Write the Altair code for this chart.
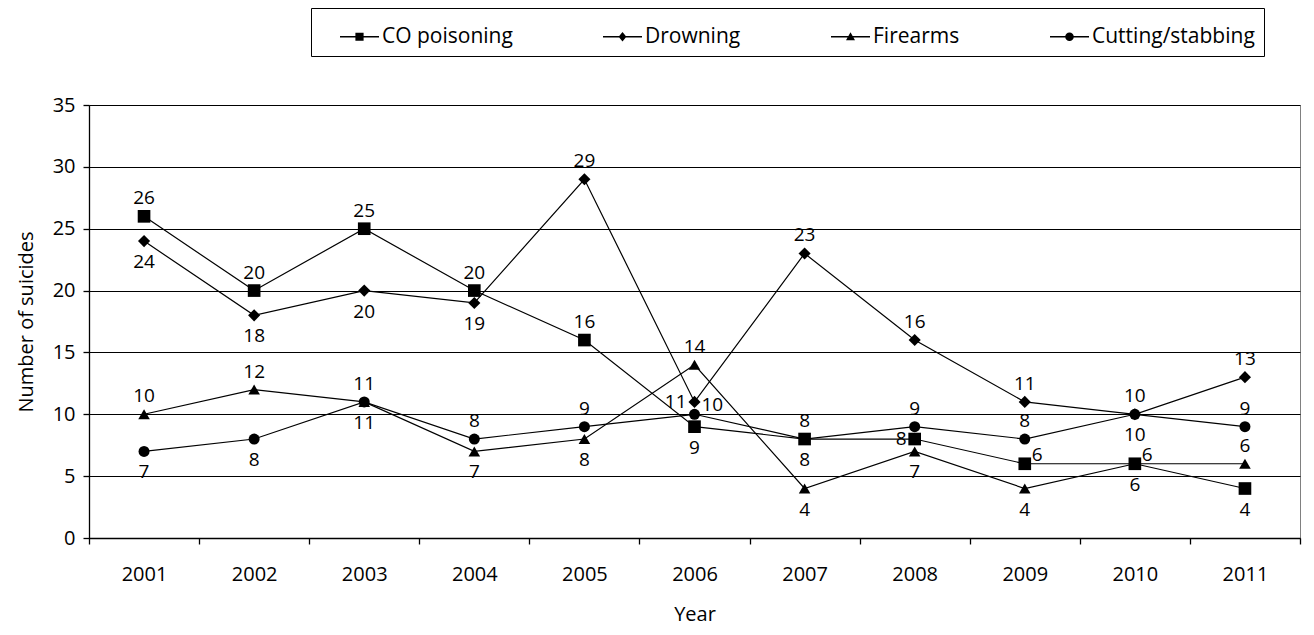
import altair as alt
import pandas as pd

# ---- data ----
years = ["2001", "2002", "2003", "2004", "2005", "2006", "2007", "2008", "2009", "2010", "2011"]
series_names = ["CO poisoning", "Drowning", "Firearms", "Cutting/stabbing"]
co_poisoning = [26, 20, 25, 20, 16, 9, 8, 8, 6, 6, 4]
drowning = [24, 18, 20, 19, 29, 11, 23, 16, 11, 10, 13]
firearms = [10, 12, 11, 7, 8, 14, 4, 7, 4, 6, 6]
cutting_stabbing = [7, 8, 11, 8, 9, 10, 8, 9, 8, 10, 9]

# label placement relative to each point: a=above, b=below, l=left, r=upper right
label_side = {
    "CO poisoning":     ["a", "a", "a", "a", "a", "b", "a", "l", "r", "r", "b"],
    "Drowning":         ["b", "b", "b", "b", "a", "l", "a", "a", "a", "b", "a"],
    "Firearms":         ["a", "a", "b", "b", "b", "a", "b", "b", "b", "b", "a"],
    "Cutting/stabbing": ["b", "b", "a", "a", "a", "r", "b", "a", "a", "a", "a"],
}

values = {
    "CO poisoning": co_poisoning,
    "Drowning": drowning,
    "Firearms": firearms,
    "Cutting/stabbing": cutting_stabbing,
}

rows = []
for s in series_names:
    for i, yr in enumerate(years):
        rows.append({"year": yr, "series": s, "value": values[s][i], "side": label_side[s][i]})
df = pd.DataFrame(rows)

FONT = "Open Sans"

marker_shapes = ["square", "diamond", "triangle-up", "circle"]
marker_sizes = [160, 121, 160, 150]
# legend glyphs: a thin bar (the line) plus the marker, all wound clockwise
LINE = "M-1,-0.034H1V0.034H-1Z"
legend_paths = [
    LINE + "M-0.21,-0.21H0.21V0.21H-0.21Z",
    LINE + "M0,-0.24L0.2,0L0,0.24L-0.2,0Z",
    LINE + "M0,-0.23L0.23,0.18L-0.23,0.18Z",
    LINE + "M0.22,0A0.22,0.22,0,1,1,-0.22,0A0.22,0.22,0,1,1,0.22,0Z",
]

x_enc = alt.X(
    "year:N",
    scale=alt.Scale(type="band", domain=years, paddingInner=0, paddingOuter=0),
    axis=alt.Axis(
        title="Year",
        labelAngle=0,
        tickBand="extent",
        tickSize=6,
        labelPadding=20,
        titlePadding=20,
        grid=False,
    ),
)
y_enc = alt.Y(
    "value:Q",
    scale=alt.Scale(domain=[0, 35], nice=False, zero=True),
    axis=alt.Axis(
        title="Number of suicides",
        values=[0, 5, 10, 15, 20, 25, 30, 35],
        tickSize=6,
        labelPadding=8,
        titlePadding=16,
        grid=True,
        gridColor="black",
        gridWidth=1,
        gridOpacity=1,
    ),
)

base = alt.Chart(df).encode(x=x_enc, y=y_enc)

lines = base.mark_line(color="black", strokeWidth=1.2).encode(detail="series:N")

points = base.mark_point(filled=True, color="black", opacity=1).encode(
    shape=alt.Shape("series:N", scale=alt.Scale(domain=series_names, range=marker_shapes), legend=None),
    size=alt.Size("series:N", scale=alt.Scale(domain=series_names, range=marker_sizes), legend=None),
)

def label_layer(side, **kw):
    return base.transform_filter(alt.datum.side == side).mark_text(
        font=FONT, fontSize=19, color="black", **kw
    ).encode(text="value:Q")

labels_above = label_layer("a", baseline="alphabetic", align="center", dy=-12)
labels_below = label_layer("b", baseline="alphabetic", align="center", dy=27)
labels_left = label_layer("l", baseline="middle", align="right", dx=-8, dy=0)
labels_right = label_layer("r", baseline="middle", align="left", dx=7, dy=-9)

legend_layer = (
    alt.Chart(df)
    .transform_filter(alt.datum.value < 0)
    .mark_point(filled=True, color="black", opacity=1)
    .encode(
        x=x_enc,
        y=y_enc,
        shape=alt.Shape(
            "series:N",
            scale=alt.Scale(domain=series_names, range=legend_paths),
            legend=alt.Legend(
                title=None,
                orient="none",
                legendX=222,
                legendY=-97,
                direction="horizontal",
                columns=4,
                symbolSize=1521,
                symbolFillColor="black",
                symbolStrokeColor="black",
                symbolStrokeWidth=0,
                symbolOpacity=1,
                symbolOffset=20,
                labelOffset=3,
                labelFont=FONT,
                labelFontSize=21,
                labelColor="black",
                labelLimit=400,
                columnPadding=70,
                padding=9,
                strokeColor="black",
                fillColor="white",
            ),
        ),
    )
)

chart = (
    alt.layer(lines, points, labels_above, labels_below, labels_left, labels_right, legend_layer)
    .resolve_scale(shape="independent", size="independent")
    .properties(
        width=1211,
        height=433,
        padding={"left": 81, "top": 97, "right": 6, "bottom": 89},
        autosize=alt.AutoSizeParams(type="none"),
        background="white",
    )
    .configure_view(stroke="#808080", strokeWidth=1)
    .configure_axis(
        labelFont=FONT,
        labelFontSize=20,
        labelColor="black",
        titleFont=FONT,
        titleFontSize=20,
        titleFontWeight="normal",
        titleColor="black",
        domainColor="black",
        domainWidth=1.3,
        tickColor="black",
        tickWidth=1.3,
    )
)

chart.save("out.html", embed_options={"renderer": "svg", "actions": False})
